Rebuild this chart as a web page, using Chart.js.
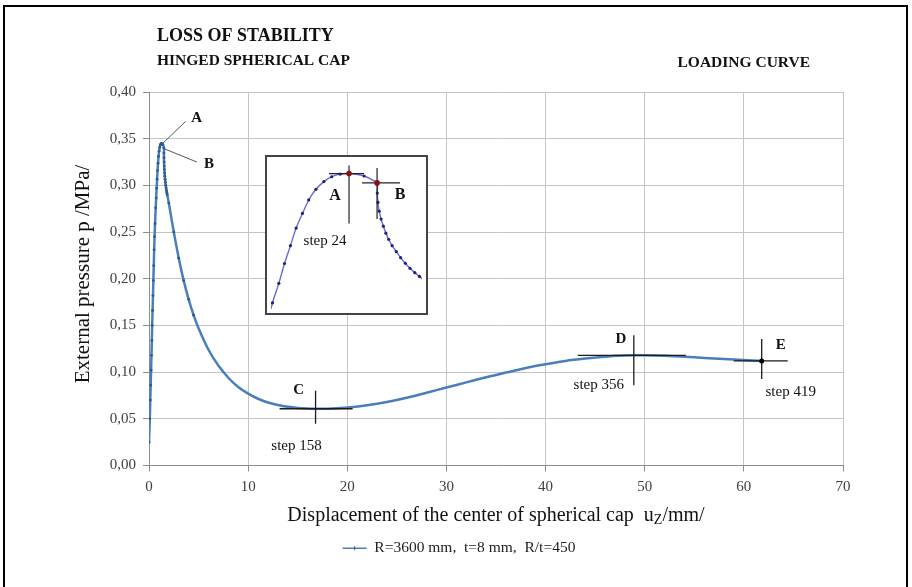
<!DOCTYPE html>
<html>
<head>
<meta charset="utf-8">
<script src="https://cdn.jsdelivr.net/npm/chart.js@4.4.1/dist/chart.umd.min.js"></script>
<style>
  html, body { margin: 0; padding: 0; background: #fff; }
  #wrap { position: relative; width: 912px; height: 587px; overflow: hidden; }
  #frame { position: absolute; left: 3px; top: 5px; width: 905px; height: 640px; border: 2px solid #000; box-sizing: border-box; }
  #main { position: absolute; left: 0; top: 0; }
  #insetBox { position: absolute; left: 265px; top: 155px; width: 163px; height: 160px; border: 2px solid #444; box-sizing: border-box; background: #fff; }
  #inset { position: absolute; left: 0; top: 0; }
</style>
</head>
<body>
<div id="wrap">
  <div id="frame"></div>
  <canvas id="main" width="912" height="587"></canvas>
  <div id="insetBox"><canvas id="inset" width="159" height="156"></canvas></div>
</div>
<script>
// ---- loading curve: displacement of the cap centre [mm] vs external pressure [MPa]
const dispMm = [
  0.00, 0.08, 0.13, 0.17, 0.21, 0.25, 0.29, 0.32, 0.36, 0.40, 0.44, 0.48, 0.52, 0.56, 0.61,
  0.675, 0.725, 0.770, 0.817, 0.862, 0.912, 0.962, 1.019, 1.082, 1.144, 1.211, 1.281,
  1.400, 1.503, 1.505, 1.510, 1.520, 1.535, 1.553, 1.573, 1.595, 1.622, 1.655, 1.690,
  1.727, 1.764, 1.802, 1.839,
  2.0, 2.5, 3.0, 3.5, 4.0, 4.5, 5.0, 6.0, 7.0, 8.0, 9.0, 10.0, 11.0, 12.0, 13.0, 14.0,
  15.0, 16.0, 16.8, 18.0, 19.0, 20.0, 22.0, 24.0, 26.0, 28.0, 30.0, 32.0, 34.0, 36.0,
  38.0, 40.0, 42.0, 44.0, 46.0, 48.0, 48.9, 50.0, 52.0, 54.0, 56.0, 58.0, 60.0, 61.8
];
const pressMPa = [
  0.025, 0.050, 0.070, 0.086, 0.102, 0.118, 0.134, 0.150, 0.166, 0.182, 0.198, 0.214, 0.231, 0.245, 0.259,
  0.2760, 0.2864, 0.2970, 0.3065, 0.3159, 0.3237, 0.3309, 0.3366, 0.3407, 0.3433, 0.3447, 0.3450,
  0.3437, 0.3400, 0.3346, 0.3296, 0.3249, 0.3207, 0.3169, 0.3132, 0.3099, 0.3065, 0.3033, 0.3001,
  0.2971, 0.2944, 0.2921, 0.2901,
  0.281, 0.250, 0.222, 0.198, 0.178, 0.161, 0.147, 0.124, 0.107, 0.094, 0.084, 0.077, 0.0715, 0.0675, 0.0647, 0.0628,
  0.0616, 0.0610, 0.0608, 0.0609, 0.0613, 0.0620, 0.0645, 0.0680, 0.0725, 0.0780, 0.0835, 0.0890, 0.0945, 0.0995,
  0.1045, 0.1085, 0.1120, 0.1145, 0.1165, 0.1177, 0.1180, 0.1180, 0.1175, 0.1165, 0.1152, 0.1140, 0.1130, 0.1120
];

// marked steps on the curve
const peakNames = ['A', 'B'];
const peakX = [1.281, 1.503];
const peakP = [0.3450, 0.3400];
const peakStep = 'step 24';

const markNames = ['C', 'D', 'E'];
const markX = [16.8, 48.9, 61.8];
const markP = [0.0608, 0.1180, 0.1120];
const markSteps = ['step 158', 'step 356', 'step 419'];

// axis ticks
const xTicks = [0, 10, 20, 30, 40, 50, 60, 70];
const yTicks = [0.00, 0.05, 0.10, 0.15, 0.20, 0.25, 0.30, 0.35, 0.40];

// texts
const headings = ['LOSS OF STABILITY', 'HINGED SPHERICAL CAP', 'LOADING CURVE'];
const yTitle = 'External pressure p /MPa/';
const xTitleMain = 'Displacement of the center of spherical cap  u';
const xTitleSub = 'Z';
const xTitleUnit = '/mm/';
const seriesLabel = 'R=3600 mm,  t=8 mm,  R/t=450';

const serif = '"Liberation Serif", "Times New Roman", serif';
const lineBlue = '#4a7ebb';
const points = dispMm.map((v, i) => ({ x: v, y: pressMPa[i] }));

function line(ctx, x1, y1, x2, y2) {
  ctx.beginPath(); ctx.moveTo(x1, y1); ctx.lineTo(x2, y2); ctx.stroke();
}

// headings, axis titles, leader lines and step crosshairs
const overlay = {
  id: 'overlay',
  afterDraw(chart) {
    const { ctx, chartArea, scales: { x, y } } = chart;
    ctx.save();
    ctx.fillStyle = '#111';
    ctx.textBaseline = 'middle';

    ctx.textAlign = 'left';
    ctx.font = `bold 18px ${serif}`;
    ctx.fillText(headings[0], 157, 36);
    ctx.font = `bold 15.5px ${serif}`;
    ctx.fillText(headings[1], 157, 61);
    ctx.textAlign = 'right';
    ctx.fillText(headings[2], 810, 63);

    // y title
    ctx.save();
    ctx.translate(83, 274);
    ctx.rotate(-Math.PI / 2);
    ctx.textAlign = 'center';
    ctx.font = `21px ${serif}`;
    ctx.fillText(yTitle, 0, 0);
    ctx.restore();

    // x title with subscript
    ctx.textAlign = 'left';
    ctx.font = `20px ${serif}`;
    const w1 = ctx.measureText(xTitleMain).width;
    const w3 = ctx.measureText(xTitleUnit).width;
    ctx.font = `14px ${serif}`;
    const w2 = ctx.measureText(xTitleSub).width;
    const tx = (chartArea.left + chartArea.right) / 2 - (w1 + w2 + w3) / 2;
    const ty = 516;
    ctx.font = `20px ${serif}`;
    ctx.fillText(xTitleMain, tx, ty);
    ctx.font = `14px ${serif}`;
    ctx.fillText(xTitleSub, tx + w1, ty + 4);
    ctx.font = `20px ${serif}`;
    ctx.fillText(xTitleUnit, tx + w1 + w2, ty);

    // A / B leader lines at the peak
    const ax = x.getPixelForValue(peakX[0]), ay = y.getPixelForValue(peakP[0]);
    const bx = x.getPixelForValue(peakX[1]), by = y.getPixelForValue(peakP[1]);
    ctx.strokeStyle = '#555';
    ctx.lineWidth = 1;
    line(ctx, ax + 1, ay, ax + 24, ay - 22);
    line(ctx, bx + 1, by + 1, bx + 33, by + 14);
    ctx.fillStyle = '#111';
    ctx.font = `bold 15px ${serif}`;
    ctx.textAlign = 'center';
    ctx.fillText(peakNames[0], ax + 35, ay - 25);
    ctx.fillText(peakNames[1], bx + 45, by + 16);

    // crosshairs at C, D, E
    const hx = [[-36, 37], [-56, 52], [-28, 26]];
    const vy = [[-18, 15], [-20, 30], [-22, 18]];
    const nameOff = [[-17, -19], [-13, -16], [19, -16]];
    const stepOff = [[-19, 37], [-35, 30], [29, 31]];
    markX.forEach((mx, i) => {
      const px = x.getPixelForValue(mx), py = y.getPixelForValue(markP[i]);
      ctx.strokeStyle = '#1b1b1b';
      ctx.lineWidth = 1.3;
      line(ctx, px + hx[i][0], py, px + hx[i][1], py);
      line(ctx, px, py + vy[i][0], px, py + vy[i][1]);
      if (i === 2) {
        ctx.fillStyle = '#000';
        ctx.beginPath(); ctx.arc(px, py, 2.5, 0, Math.PI * 2); ctx.fill();
      }
      ctx.fillStyle = '#111';
      ctx.font = `bold 15px ${serif}`;
      ctx.fillText(markNames[i], px + nameOff[i][0], py + nameOff[i][1]);
      ctx.font = `15px ${serif}`;
      ctx.fillText(markSteps[i], px + stepOff[i][0], py + stepOff[i][1]);
    });

    // small marker in the middle of the legend line sample
    const item = chart.legend.legendHitBoxes[0];
    if (item) {
      const lx = item.left + 12, ly = item.top + item.height / 2;
      ctx.strokeStyle = '#2d5b8c';
      ctx.lineWidth = 1;
      line(ctx, lx, ly - 2, lx, ly + 2);
    }
    ctx.restore();
  }
};

new Chart(document.getElementById('main'), {
  type: 'scatter',
  data: {
    datasets: [{
      label: seriesLabel,
      data: points,
      showLine: true,
      borderColor: lineBlue,
      borderWidth: 2.5,
      tension: 0.2,
      pointRadius: c => (dispMm[c.dataIndex] < 5 ? 1.4 : 0),
      pointBackgroundColor: '#2d5b8c',
      pointBorderWidth: 0
    }]
  },
  options: {
    responsive: false,
    animation: false,
    layout: { padding: { left: 75, right: 69, top: 92, bottom: 21 } },
    plugins: {
      tooltip: { enabled: false },
      legend: {
        position: 'bottom',
        labels: {
          usePointStyle: true,
          pointStyle: 'line',
          pointStyleWidth: 24,
          padding: 10,
          color: '#222',
          font: { family: serif, size: 15.5 },
          generateLabels: chart => Chart.defaults.plugins.legend.labels.generateLabels(chart)
            .map(item => Object.assign(item, { lineWidth: 1.5, strokeStyle: lineBlue, pointStyle: 'line' }))
        }
      }
    },
    scales: {
      x: {
        type: 'linear', min: 0, max: 70,
        afterBuildTicks: s => { s.ticks = xTicks.map(v => ({ value: v })); },
        afterFit: s => { s.height = 65; },
        ticks: { color: '#404040', font: { family: serif, size: 15 }, padding: 7 },
        grid: { color: '#c4c4c4', tickColor: '#8c8c8c', tickLength: 6 },
        border: { color: '#8c8c8c' }
      },
      y: {
        type: 'linear', min: 0, max: 0.4,
        afterBuildTicks: s => { s.ticks = yTicks.map(v => ({ value: v })); },
        afterFit: s => { s.width = 74; },
        ticks: {
          color: '#404040', font: { family: serif, size: 15 }, padding: 7,
          callback: v => v.toFixed(2).replace('.', ',')
        },
        grid: { color: '#c4c4c4', tickColor: '#8c8c8c', tickLength: 6 },
        border: { color: '#8c8c8c' }
      }
    }
  },
  plugins: [overlay]
});

// ---- enlarged view of the limit point
const peakIdx = peakX.map(v => dispMm.indexOf(v));
const insetMarks = {
  id: 'insetMarks',
  afterDraw(chart) {
    const { ctx, scales: { x, y } } = chart;
    const ax = x.getPixelForValue(peakX[0]), ay = y.getPixelForValue(peakP[0]);
    const bx = x.getPixelForValue(peakX[1]), by = y.getPixelForValue(peakP[1]);
    ctx.save();
    ctx.strokeStyle = '#222';
    ctx.lineWidth = 1.2;
    line(ctx, ax - 20, ay, ax + 15, ay);
    line(ctx, ax, ay - 8, ax, ay + 50);
    line(ctx, bx - 15, by, bx + 23, by);
    line(ctx, bx, by - 15, bx, by + 36);
    ctx.fillStyle = '#8b1111';
    [[ax, ay], [bx, by]].forEach(([px, py]) => {
      ctx.beginPath(); ctx.arc(px, py, 2.8, 0, Math.PI * 2); ctx.fill();
    });
    ctx.fillStyle = '#111';
    ctx.textAlign = 'center';
    ctx.textBaseline = 'middle';
    ctx.font = `bold 16px ${serif}`;
    ctx.fillText(peakNames[0], ax - 14, ay + 22);
    ctx.fillText(peakNames[1], bx + 23, by + 12);
    ctx.font = `15px ${serif}`;
    ctx.fillText(peakStep, ax - 24, ay + 68);
    ctx.restore();
  }
};

new Chart(document.getElementById('inset'), {
  type: 'scatter',
  data: {
    datasets: [{
      data: points,
      showLine: true,
      borderColor: '#6a6ad6',
      borderWidth: 1.4,
      tension: 0.2,
      pointRadius: c => (peakIdx.includes(c.dataIndex) ? 0 : 1.6),
      pointBackgroundColor: '#1c2378',
      pointBorderWidth: 0
    }]
  },
  options: {
    responsive: false,
    animation: false,
    layout: { padding: 0 },
    plugins: { legend: { display: false }, tooltip: { enabled: false } },
    scales: {
      x: { type: 'linear', display: false, min: 0.663, max: 1.859 },
      y: { type: 'linear', display: false, min: 0.2727, max: 0.3517 }
    }
  },
  plugins: [insetMarks]
});
</script>
</body>
</html>
